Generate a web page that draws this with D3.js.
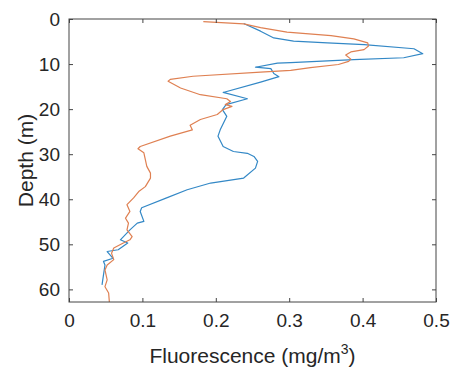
<!DOCTYPE html>
<html>
<head>
<meta charset="utf-8">
<script src="https://cdn.jsdelivr.net/npm/d3@7"></script>
<style>
  html, body { margin: 0; padding: 0; background: #fff; }
  svg text { font-family: "Liberation Sans", Arial, Helvetica, sans-serif; fill: #262626; }
</style>
</head>
<body>
<svg id="chart" width="455" height="371"></svg>
<script>
// profile 1 (blue): depth (m) and fluorescence (mg/m3)
const depthBlue = [1.0, 2.7, 4.2, 4.9, 5.3, 5.7, 6.6, 7.7, 8.6, 9.0, 9.7, 9.8, 10.7, 11.0, 12.1, 12.8,
  14.0, 16.3, 17.7, 19.0, 20.1, 21.6, 24.6, 26.0, 28.3, 29.4, 29.8, 30.5, 31.6, 33.1, 35.3, 36.4,
  37.9, 39.7, 41.9, 42.7, 44.9, 45.3, 46.8, 49.0, 49.7, 51.2, 51.6, 53.1, 53.8, 54.6, 56.8, 59.0];
const fluorBlue = [0.238, 0.261, 0.279, 0.306, 0.352, 0.402, 0.470, 0.482, 0.456, 0.388, 0.302, 0.284, 0.254, 0.275, 0.279, 0.286,
  0.261, 0.210, 0.243, 0.214, 0.209, 0.215, 0.206, 0.203, 0.210, 0.224, 0.243, 0.252, 0.257, 0.254, 0.238, 0.193,
  0.161, 0.133, 0.099, 0.097, 0.102, 0.093, 0.083, 0.070, 0.080, 0.067, 0.052, 0.060, 0.047, 0.049, 0.047, 0.045];

// profile 2 (orange)
const depthOrange = [0.6, 1.1, 1.9, 2.9, 3.7, 4.4, 5.3, 6.0, 6.8, 7.3, 8.0, 8.9, 9.4, 10.1, 10.8, 11.4, 11.8,
  12.7, 13.4, 13.8, 15.3, 16.8, 17.7, 18.3, 19.0, 19.4, 20.1, 21.2, 22.3, 23.6, 24.6, 26.0, 28.3, 28.8,
  29.7, 31.2, 32.7, 34.2, 35.3, 37.2, 38.3, 39.7, 41.2, 42.7, 44.2, 45.3, 46.8, 48.3, 49.0, 49.7, 50.8,
  52.0, 53.4, 54.6, 55.7, 57.9, 59.4, 60.8, 62.8];
const fluorOrange = [0.183, 0.238, 0.261, 0.297, 0.357, 0.388, 0.407, 0.408, 0.402, 0.384, 0.377, 0.384, 0.381, 0.367, 0.329, 0.302, 0.261,
  0.169, 0.138, 0.135, 0.152, 0.179, 0.215, 0.220, 0.213, 0.222, 0.210, 0.202, 0.179, 0.165, 0.168, 0.138, 0.097, 0.094,
  0.102, 0.104, 0.106, 0.111, 0.111, 0.104, 0.095, 0.088, 0.079, 0.083, 0.077, 0.081, 0.079, 0.086, 0.083, 0.074, 0.061,
  0.058, 0.061, 0.052, 0.049, 0.052, 0.049, 0.054, 0.055];

const xTicks = [0, 0.1, 0.2, 0.3, 0.4, 0.5];
const yTicks = [0, 10, 20, 30, 40, 50, 60];

const margin = {left: 69, top: 19, right: 19, bottom: 69};
const W = 455, H = 371;
const width = W - margin.left - margin.right,
      height = H - margin.top - margin.bottom;

const svg = d3.select("#chart");
const g = svg.append("g")
    .attr("transform", "translate(" + margin.left + "," + margin.top + ")");

const x = d3.scaleLinear().domain([0, 0.5]).range([0, width]);
const y = d3.scaleLinear().domain([0, 62.8]).range([0, height]);

// clip so the deepest points stay inside the box
g.append("clipPath").attr("id", "clip")
  .append("rect").attr("width", width).attr("height", height);

const line = d3.line()
    .x(d => x(d[1]))
    .y(d => y(d[0]));

const series = [
  {depth: depthBlue, val: fluorBlue, color: "#3388c6"},
  {depth: depthOrange, val: fluorOrange, color: "#df8052"}
];

series.forEach(s => {
  const pts = s.depth.map((d, i) => [d, s.val[i]]);
  g.append("path")
    .datum(pts)
    .attr("clip-path", "url(#clip)")
    .attr("fill", "none")
    .attr("stroke", s.color)
    .attr("stroke-width", 1.2)
    .attr("stroke-linejoin", "round")
    .attr("d", line);
});

// axes, ticks pointing inwards like matlab, box on
const tickLen = 4;
const fmt = d => d === 0 ? "0" : d3.format(".1f")(d);

const xAxis = g.append("g")
    .attr("transform", `translate(0, ${height})`)
    .call(d3.axisBottom(x).tickValues(xTicks).tickFormat(fmt).tickSizeInner(-tickLen).tickSizeOuter(0).tickPadding(12));
const xTop = g.append("g")
    .call(d3.axisTop(x).tickValues(xTicks).tickFormat("").tickSizeInner(-tickLen).tickSizeOuter(0));
const yAxis = g.append("g")
    .call(d3.axisLeft(y).tickValues(yTicks).tickSizeInner(-tickLen).tickSizeOuter(0).tickPadding(9));
const yRight = g.append("g")
    .attr("transform", `translate(${width}, 0)`)
    .call(d3.axisRight(y).tickValues(yTicks).tickFormat("").tickSizeInner(-tickLen).tickSizeOuter(0));

[xAxis, xTop, yAxis, yRight].forEach(a => {
  a.select(".domain").remove();
  a.selectAll("line").attr("stroke", "#444");
  a.selectAll("text").attr("font-size", 19).style("font-family", null).attr("fill", "#262626");
});

g.append("rect")
  .attr("width", width)
  .attr("height", height)
  .attr("fill", "none")
  .attr("stroke", "#444")
  .attr("stroke-width", 1);

// axis labels
const xl = svg.append("text")
  .attr("x", margin.left + width / 2)
  .attr("y", 363)
  .attr("text-anchor", "middle")
  .attr("font-size", 21);
xl.append("tspan").text("Fluorescence (mg/m");
xl.append("tspan").attr("font-size", 14).attr("dy", -9).text("3");
xl.append("tspan").attr("dy", 9).text(")");

svg.append("text")
  .attr("transform", `translate(33, ${margin.top + height / 2}) rotate(-90)`)
  .attr("text-anchor", "middle")
  .attr("font-size", 21)
  .text("Depth (m)");
</script>
</body>
</html>
